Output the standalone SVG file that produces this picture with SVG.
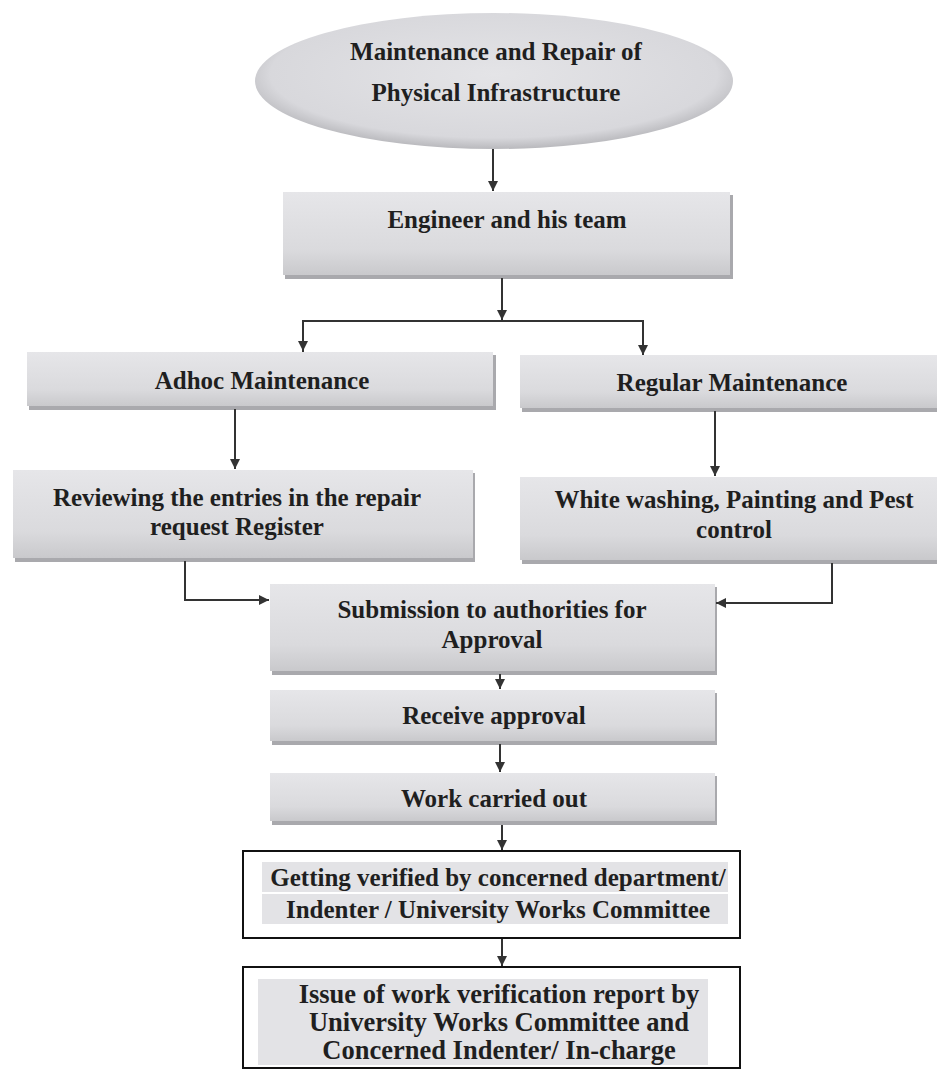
<svg xmlns="http://www.w3.org/2000/svg" width="937" height="1069" viewBox="0 0 937 1069">
  <defs>
    <linearGradient id="boxGrad" x1="0" y1="0" x2="0" y2="1">
      <stop offset="0" stop-color="#e6e6e9"/>
      <stop offset="0.7" stop-color="#dadadd"/>
      <stop offset="1" stop-color="#c9c9cc"/>
    </linearGradient>
    <radialGradient id="ellGrad" cx="0.5" cy="0.45" r="0.55">
      <stop offset="0" stop-color="#e4e4e7"/>
      <stop offset="0.85" stop-color="#d8d8dc"/>
      <stop offset="1" stop-color="#b9b9bd"/>
    </radialGradient>
    <marker id="arrow" viewBox="0 0 10 10" refX="10" refY="5" markerWidth="10" markerHeight="10" markerUnits="userSpaceOnUse" orient="auto">
      <path d="M0,0 L10,5 L0,10 Z" fill="#333"/>
    </marker>
    <style>
      .box { fill: url(#boxGrad); }
      .shadow { fill: #a9a9ad; }
      .label { font-family: "Liberation Serif", "Times New Roman", serif; font-weight: bold; fill: #1f1f1f; text-anchor: middle; }
      .t25 { font-size: 25px; }
      .t26 { font-size: 26.5px; }
      .band { fill: #e3e3e6; }
      .outline { fill: #ffffff; stroke: #111; stroke-width: 2; }
      .conn { fill: none; stroke: #333; stroke-width: 2; }
    </style>
  </defs>
  <rect width="937" height="1069" fill="#ffffff"/>

  <g id="node-start">
    <ellipse cx="494" cy="81" rx="239" ry="68" fill="url(#ellGrad)"/>
    <text class="label t25" x="496" y="60">Maintenance and Repair of</text>
    <text class="label t25" x="496" y="101">Physical Infrastructure</text>
  </g>

  <g id="node-engineer">
    <rect class="shadow" x="285" y="195" width="448" height="84"/>
    <rect class="box" x="283" y="192" width="447" height="83"/>
    <text class="label t25" x="507" y="228">Engineer and his team</text>
  </g>

  <g id="node-adhoc">
    <rect class="shadow" x="29" y="355" width="467" height="55"/>
    <rect class="box" x="27" y="352" width="466" height="54"/>
    <text class="label t25" x="262" y="389">Adhoc Maintenance</text>
  </g>

  <g id="node-regular">
    <rect class="shadow" x="522" y="358" width="415" height="54"/>
    <rect class="box" x="520" y="355" width="417" height="53"/>
    <text class="label t25" x="732" y="391">Regular Maintenance</text>
  </g>

  <g id="node-reviewing">
    <rect class="shadow" x="15" y="473" width="460" height="89"/>
    <rect class="box" x="13" y="470" width="460" height="88"/>
    <text class="label t25" x="237" y="506">Reviewing the entries in the repair</text>
    <text class="label t25" x="237" y="535">request Register</text>
  </g>

  <g id="node-whitewash">
    <rect class="shadow" x="522" y="480" width="415" height="84"/>
    <rect class="box" x="520" y="477" width="417" height="83"/>
    <text class="label t25" x="734" y="508">White washing, Painting and Pest</text>
    <text class="label t25" x="734" y="538">control</text>
  </g>

  <g id="node-submission">
    <rect class="shadow" x="272" y="587" width="445" height="88"/>
    <rect class="box" x="270" y="584" width="445" height="87"/>
    <text class="label t25" x="492" y="618">Submission to authorities for</text>
    <text class="label t25" x="492" y="648">Approval</text>
  </g>

  <g id="node-receive">
    <rect class="shadow" x="272" y="693" width="445" height="52"/>
    <rect class="box" x="270" y="690" width="445" height="51"/>
    <text class="label t25" x="494" y="724">Receive approval</text>
  </g>

  <g id="node-work">
    <rect class="shadow" x="272" y="776" width="445" height="49"/>
    <rect class="box" x="270" y="773" width="445" height="48"/>
    <text class="label t25" x="494" y="807">Work carried out</text>
  </g>

  <g id="node-verified">
    <rect class="outline" x="243" y="851" width="497" height="87"/>
    <rect class="band" x="262" y="862" width="466" height="30"/>
    <rect class="band" x="262" y="894" width="466" height="30"/>
    <text class="label t25" x="498" y="886">Getting verified by concerned department/</text>
    <text class="label t25" x="498" y="918">Indenter / University Works Committee</text>
  </g>

  <g id="node-issue">
    <rect class="outline" x="243" y="967" width="497" height="101"/>
    <rect class="band" x="258" y="979" width="450" height="29"/>
    <rect class="band" x="258" y="1008" width="450" height="29"/>
    <rect class="band" x="258" y="1037" width="450" height="28"/>
    <text class="label t26" x="499" y="1003">Issue of work verification report by</text>
    <text class="label t26" x="499" y="1031">University Works Committee and</text>
    <text class="label t26" x="499" y="1059">Concerned Indenter/ In-charge</text>
  </g>

  <g id="connectors">
    <line class="conn" x1="493" y1="149" x2="493" y2="191" marker-end="url(#arrow)"/>
    <line class="conn" x1="502" y1="278" x2="502" y2="320" marker-end="url(#arrow)"/>
    <polyline class="conn" points="303,352 303,321 643,321 643,355" marker-end="url(#arrow)"/>
    <line class="conn" x1="303" y1="321" x2="303" y2="351" marker-end="url(#arrow)"/>
    <line class="conn" x1="235" y1="409" x2="235" y2="469" marker-end="url(#arrow)"/>
    <line class="conn" x1="715" y1="411" x2="715" y2="476" marker-end="url(#arrow)"/>
    <polyline class="conn" points="185,561 185,600 269,600" marker-end="url(#arrow)"/>
    <polyline class="conn" points="832,563 832,603 716,603" marker-end="url(#arrow)"/>
    <line class="conn" x1="500" y1="674" x2="500" y2="689" marker-end="url(#arrow)"/>
    <line class="conn" x1="500" y1="744" x2="500" y2="772" marker-end="url(#arrow)"/>
    <line class="conn" x1="502" y1="825" x2="502" y2="850" marker-end="url(#arrow)"/>
    <line class="conn" x1="502" y1="939" x2="502" y2="966" marker-end="url(#arrow)"/>
  </g>
</svg>
